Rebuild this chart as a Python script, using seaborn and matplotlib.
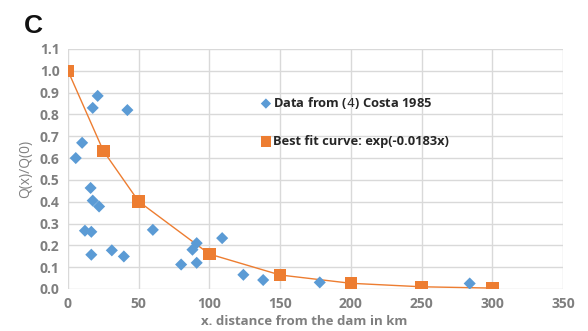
import matplotlib
matplotlib.use('Agg')
import matplotlib.pyplot as plt
import pandas as pd
import seaborn as sns

# Costa 1985 data points (distance km, Q(x)/Q(0))
data_x = [5.5, 10, 17.5, 21, 42, 16, 17.5, 22, 12, 16.5, 16.5, 31, 39.5,
          60, 80, 88, 91, 91, 109, 124, 138, 178, 284]
data_y = [0.60, 0.67, 0.83, 0.885, 0.82, 0.463, 0.405, 0.378, 0.267, 0.262,
          0.157, 0.177, 0.149, 0.271, 0.112, 0.18, 0.21, 0.12, 0.233, 0.065,
          0.041, 0.03, 0.025]

# best fit curve points
fit_x = [0, 25, 50, 100, 150, 200, 250, 300]
fit_y = [1.0, 0.633, 0.401, 0.160, 0.064, 0.026, 0.010, 0.004]

x_ticks = [0, 50, 100, 150, 200, 250, 300, 350]
y_ticks = [0.0, 0.1, 0.2, 0.3, 0.4, 0.5, 0.6, 0.7, 0.8, 0.9, 1.0, 1.1]

blue = '#5B9BD5'
orange = '#ED7D31'
gray = '#7f7f7f'

sns.set_theme(style='whitegrid')
plt.rcParams['font.family'] = ['Open Sans', 'DejaVu Sans']
plt.rcParams['mathtext.fontset'] = 'custom'
plt.rcParams['mathtext.it'] = 'Open Sans:italic:bold'

df_data = pd.DataFrame({'x': data_x, 'y': data_y})
df_fit = pd.DataFrame({'x': fit_x, 'y': fit_y})

fig = plt.figure(figsize=(5.88, 3.31), dpi=100)
ax = fig.add_axes([0.1156, 0.127, 0.842, 0.725])

sns.lineplot(data=df_fit, x='x', y='y', color=orange, linewidth=1.0, ax=ax,
             zorder=2)
sns.scatterplot(data=df_data, x='x', y='y', marker='D', s=38, color=blue,
                edgecolor='none', ax=ax, zorder=3,
                label='Data from ($\\mathit{4}$) Costa 1985')
sns.scatterplot(data=df_fit, x='x', y='y', marker='s', s=80, color=orange,
                edgecolor='none', ax=ax, zorder=4,
                label='Best fit curve: exp(-0.0183x)')

ax.set_xlim(0, 350)
ax.set_ylim(0, 1.1)
ax.set_xticks(x_ticks)
ax.set_yticks(y_ticks)
ax.set_xticklabels([str(t) for t in x_ticks])
ax.set_yticklabels([f'{t:.1f}' for t in y_ticks])
ax.tick_params(axis='both', labelsize=10, labelcolor=gray, length=0, pad=6)
for lbl in ax.get_xticklabels() + ax.get_yticklabels():
    lbl.set_fontweight('bold')
ax.grid(color='#d9d9d9', linewidth=1.0)
for sp in ax.spines.values():
    sp.set_visible(False)

ax.set_xlabel('x. distance from the dam in km', fontsize=9.5, color=gray,
              fontweight='bold')
ax.xaxis.set_label_coords(0.477, -0.11)
ax.set_ylabel('Q(x)/Q(0)', fontsize=10, color=gray, labelpad=5)

leg = ax.legend(loc='upper left', bbox_to_anchor=(0.375, 0.83), frameon=False,
                fontsize=9.3, labelspacing=1.85, handletextpad=0.0,
                borderaxespad=0, handlelength=1.1, markerscale=0.85)
for t in leg.get_texts():
    t.set_color('#262626')
    t.set_fontweight('bold')

fig.text(0.041, 0.90, 'C', fontsize=19, fontweight='bold', color='#111111',
         family=['Liberation Sans Narrow', 'Liberation Sans'])

fig.savefig('out.png', dpi=100)
